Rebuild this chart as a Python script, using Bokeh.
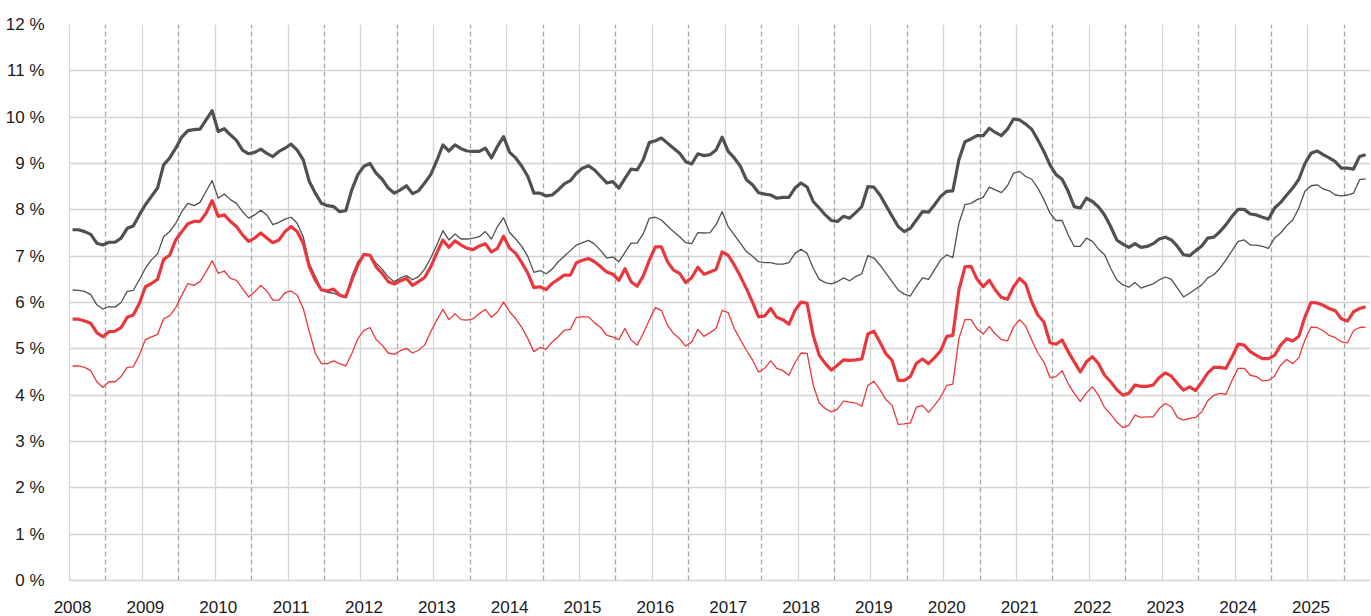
import numpy as np
from bokeh.plotting import figure
from bokeh.models import Range1d, FixedTicker, Grid
from bokeh.embed import file_html
from bokeh.resources import INLINE

# Monthly data, Jan 2008 .. Oct 2025 (percent)
years = [str(y) for y in range(2008, 2026)]
y_ticks = list(range(0, 13))
y_labels = [f"{v} %" for v in y_ticks]

# thick dark grey series
series_a = [
    7.57, 7.57, 7.53, 7.47, 7.28, 7.24, 7.30, 7.30, 7.39, 7.60, 7.65, 7.89,
    8.11, 8.29, 8.47, 8.97, 9.12, 9.33, 9.57, 9.71, 9.73, 9.74, 9.94, 10.14,
    9.69, 9.75, 9.62, 9.50, 9.29, 9.21, 9.24, 9.31, 9.22, 9.15, 9.26, 9.33,
    9.42, 9.29, 9.08, 8.61, 8.36, 8.14, 8.09, 8.07, 7.96, 7.98, 8.43, 8.76,
    8.94, 9.00, 8.79, 8.66, 8.47, 8.36, 8.43, 8.52, 8.35, 8.41, 8.58, 8.76,
    9.06, 9.40, 9.27, 9.40, 9.32, 9.27, 9.26, 9.26, 9.33, 9.12, 9.37, 9.58,
    9.24, 9.12, 8.94, 8.72, 8.36, 8.36, 8.30, 8.32, 8.43, 8.56, 8.63, 8.79,
    8.90, 8.95, 8.86, 8.72, 8.58, 8.61, 8.47, 8.68, 8.88, 8.86, 9.08, 9.45,
    9.49, 9.55, 9.44, 9.33, 9.22, 9.04, 8.99, 9.21, 9.17, 9.19, 9.29, 9.57,
    9.26, 9.12, 8.94, 8.65, 8.54, 8.37, 8.34, 8.32, 8.25, 8.27, 8.27, 8.47,
    8.58, 8.49, 8.18, 8.04, 7.89, 7.77, 7.75, 7.86, 7.82, 7.94, 8.07, 8.50,
    8.49, 8.32, 8.09, 7.86, 7.64, 7.53, 7.60, 7.78, 7.96, 7.95, 8.11, 8.29,
    8.40, 8.41, 9.08, 9.47, 9.53, 9.60, 9.60, 9.76, 9.67, 9.60, 9.74, 9.96,
    9.94, 9.85, 9.74, 9.51, 9.26, 8.97, 8.76, 8.66, 8.40, 8.07, 8.04, 8.25,
    8.18, 8.06, 7.89, 7.64, 7.35, 7.26, 7.19, 7.27, 7.19, 7.21, 7.27, 7.37,
    7.41, 7.35, 7.21, 7.03, 7.01, 7.12, 7.22, 7.39, 7.41, 7.53, 7.68, 7.86,
    8.01, 8.01, 7.91, 7.89, 7.84, 7.80, 8.04, 8.16, 8.32, 8.47, 8.66, 9.00,
    9.22, 9.27, 9.19, 9.12, 9.04, 8.90, 8.90, 8.88, 9.15, 9.19,
]

# thin dark grey series
series_b = [
    6.27, 6.26, 6.24, 6.17, 5.95, 5.86, 5.91, 5.90, 6.00, 6.24, 6.26, 6.49,
    6.74, 6.92, 7.05, 7.42, 7.53, 7.71, 7.96, 8.14, 8.09, 8.16, 8.40, 8.63,
    8.25, 8.34, 8.22, 8.14, 7.96, 7.82, 7.89, 7.99, 7.89, 7.68, 7.73, 7.80,
    7.84, 7.71, 7.42, 6.84, 6.56, 6.29, 6.22, 6.20, 6.14, 6.11, 6.56, 6.88,
    7.04, 7.03, 6.85, 6.72, 6.55, 6.45, 6.53, 6.58, 6.49, 6.56, 6.72, 6.96,
    7.24, 7.55, 7.35, 7.48, 7.37, 7.37, 7.39, 7.42, 7.53, 7.37, 7.64, 7.83,
    7.51, 7.37, 7.21, 6.99, 6.65, 6.69, 6.62, 6.72, 6.88, 7.00, 7.12, 7.24,
    7.29, 7.34, 7.26, 7.12, 6.96, 6.98, 6.88, 7.08, 7.28, 7.28, 7.48, 7.82,
    7.84, 7.78, 7.65, 7.53, 7.42, 7.29, 7.27, 7.51, 7.50, 7.51, 7.68, 7.96,
    7.64, 7.46, 7.28, 7.10, 7.00, 6.88, 6.86, 6.86, 6.83, 6.83, 6.86, 7.06,
    7.15, 7.06, 6.74, 6.50, 6.43, 6.40, 6.45, 6.53, 6.47, 6.56, 6.62, 7.01,
    6.96, 6.81, 6.63, 6.45, 6.27, 6.18, 6.14, 6.35, 6.53, 6.50, 6.71, 6.92,
    7.03, 6.97, 7.71, 8.11, 8.14, 8.22, 8.27, 8.49, 8.43, 8.37, 8.52, 8.79,
    8.83, 8.72, 8.66, 8.47, 8.22, 7.93, 7.77, 7.77, 7.46, 7.21, 7.21, 7.39,
    7.32, 7.15, 7.03, 6.74, 6.49, 6.38, 6.33, 6.43, 6.31, 6.36, 6.40, 6.49,
    6.55, 6.50, 6.31, 6.12, 6.20, 6.29, 6.38, 6.53, 6.60, 6.74, 6.92, 7.12,
    7.32, 7.35, 7.24, 7.24, 7.21, 7.17, 7.39, 7.50, 7.66, 7.78, 8.04, 8.40,
    8.52, 8.54, 8.45, 8.41, 8.32, 8.30, 8.32, 8.36, 8.65, 8.67,
]

# thick red series
series_c = [
    5.64, 5.64, 5.60, 5.55, 5.35, 5.26, 5.37, 5.38, 5.46, 5.68, 5.73, 5.98,
    6.34, 6.41, 6.50, 6.93, 7.02, 7.35, 7.53, 7.70, 7.75, 7.75, 7.93, 8.20,
    7.86, 7.89, 7.75, 7.64, 7.46, 7.32, 7.39, 7.50, 7.39, 7.29, 7.35, 7.53,
    7.64, 7.53, 7.28, 6.77, 6.48, 6.27, 6.25, 6.29, 6.16, 6.12, 6.48, 6.81,
    7.04, 7.02, 6.77, 6.63, 6.45, 6.40, 6.47, 6.52, 6.37, 6.45, 6.54, 6.77,
    7.07, 7.35, 7.19, 7.33, 7.24, 7.17, 7.14, 7.22, 7.27, 7.09, 7.17, 7.43,
    7.17, 7.06, 6.86, 6.63, 6.32, 6.34, 6.28, 6.41, 6.50, 6.59, 6.59, 6.86,
    6.91, 6.95, 6.88, 6.77, 6.66, 6.61, 6.48, 6.73, 6.45, 6.35, 6.57, 6.91,
    7.20, 7.20, 6.88, 6.70, 6.63, 6.43, 6.54, 6.76, 6.61, 6.66, 6.71, 7.09,
    7.02, 6.81, 6.57, 6.30, 6.01, 5.69, 5.71, 5.87, 5.68, 5.63, 5.53, 5.83,
    6.01, 5.98, 5.29, 4.86, 4.68, 4.54, 4.65, 4.76, 4.75, 4.76, 4.78, 5.32,
    5.38, 5.14, 4.89, 4.75, 4.32, 4.32, 4.40, 4.69, 4.78, 4.68, 4.81, 4.96,
    5.27, 5.29, 6.27, 6.77, 6.78, 6.50, 6.34, 6.48, 6.27, 6.11, 6.07, 6.34,
    6.52, 6.40, 6.01, 5.73, 5.58, 5.13, 5.10, 5.19, 4.94, 4.72, 4.50, 4.72,
    4.83, 4.68, 4.43, 4.29, 4.12, 4.00, 4.04, 4.22, 4.19, 4.19, 4.22, 4.38,
    4.48, 4.41, 4.25, 4.11, 4.18, 4.10, 4.28, 4.48, 4.60, 4.60, 4.58, 4.83,
    5.10, 5.08, 4.94, 4.86, 4.79, 4.79, 4.86, 5.08, 5.22, 5.17, 5.27, 5.69,
    6.00, 5.99, 5.94, 5.87, 5.82, 5.65, 5.60, 5.80, 5.87, 5.91,
]

# thin red series
series_d = [
    4.63, 4.63, 4.60, 4.53, 4.29, 4.17, 4.29, 4.29, 4.40, 4.60, 4.61, 4.86,
    5.20, 5.26, 5.31, 5.65, 5.71, 5.89, 6.16, 6.41, 6.37, 6.45, 6.66, 6.90,
    6.63, 6.68, 6.52, 6.48, 6.30, 6.12, 6.23, 6.37, 6.25, 6.05, 6.05, 6.21,
    6.25, 6.16, 5.87, 5.37, 4.90, 4.68, 4.68, 4.74, 4.68, 4.63, 4.90, 5.22,
    5.40, 5.46, 5.20, 5.08, 4.91, 4.88, 4.96, 5.01, 4.91, 4.97, 5.08, 5.37,
    5.62, 5.85, 5.63, 5.76, 5.63, 5.62, 5.65, 5.76, 5.85, 5.68, 5.80, 6.01,
    5.80, 5.65, 5.46, 5.22, 4.94, 5.03, 4.99, 5.15, 5.26, 5.40, 5.42, 5.68,
    5.69, 5.69, 5.56, 5.46, 5.29, 5.26, 5.20, 5.44, 5.19, 5.08, 5.33, 5.62,
    5.89, 5.83, 5.51, 5.33, 5.22, 5.06, 5.15, 5.42, 5.27, 5.35, 5.44, 5.83,
    5.78, 5.44, 5.20, 4.97, 4.76, 4.50, 4.58, 4.74, 4.58, 4.53, 4.43, 4.70,
    4.91, 4.90, 4.22, 3.83, 3.71, 3.64, 3.70, 3.87, 3.85, 3.83, 3.76, 4.21,
    4.30, 4.12, 3.90, 3.78, 3.37, 3.38, 3.40, 3.74, 3.78, 3.63, 3.78, 3.96,
    4.21, 4.24, 5.22, 5.63, 5.63, 5.43, 5.32, 5.48, 5.32, 5.20, 5.17, 5.47,
    5.63, 5.49, 5.19, 4.91, 4.72, 4.38, 4.40, 4.53, 4.25, 4.04, 3.86, 4.05,
    4.18, 4.00, 3.73, 3.59, 3.42, 3.30, 3.35, 3.57, 3.52, 3.53, 3.53, 3.71,
    3.82, 3.75, 3.52, 3.46, 3.50, 3.52, 3.64, 3.88, 4.00, 4.04, 4.02, 4.32,
    4.58, 4.58, 4.43, 4.40, 4.31, 4.32, 4.41, 4.65, 4.77, 4.68, 4.81, 5.19,
    5.47, 5.46, 5.39, 5.29, 5.24, 5.15, 5.13, 5.39, 5.46, 5.47,
]

n = len(series_a)
x = np.arange(n) + 0.5  # month centres

GRID = "#d4d4d4"
DASH = "#a6a6a6"
GREY = "#505050"
RED = "#e8383d"
FONT = "Liberation Sans"

p = figure(width=1370, height=615, output_backend="svg", toolbar_location=None,
           x_range=Range1d(0, 214.3), y_range=Range1d(0, 12),
           min_border_left=69, min_border_right=0, min_border_top=24, min_border_bottom=35)
p.outline_line_color = None
p.background_fill_color = "white"
p.border_fill_color = "white"

# grids
p.xgrid.ticker = FixedTicker(ticks=[12 * k for k in range(len(years))])
p.xgrid.grid_line_color = GRID
p.xgrid.grid_line_width = 1.3
p.ygrid.ticker = FixedTicker(ticks=y_ticks)
p.ygrid.grid_line_color = GRID
p.ygrid.grid_line_width = 1.3
p.add_layout(Grid(dimension=0, ticker=FixedTicker(ticks=[12 * k + 6 for k in range(len(years))]),
                  grid_line_color=DASH, grid_line_dash="5 3", grid_line_width=1.3))

# axes
xt = [12 * k + 0.5 for k in range(len(years))]
p.xaxis.ticker = FixedTicker(ticks=xt)
p.xaxis.major_label_overrides = {t: lab for t, lab in zip(xt, years)}
p.yaxis.ticker = FixedTicker(ticks=y_ticks)
p.yaxis.major_label_overrides = {t: lab for t, lab in zip(y_ticks, y_labels)}
for ax in (p.xaxis, p.yaxis):
    ax.axis_line_color = GRID
    ax.axis_line_width = 1.3
    ax.major_tick_line_color = None
    ax.minor_tick_line_color = None
    ax.major_label_text_font = FONT
    ax.major_label_text_font_size = "17px"
    ax.major_label_text_color = "#1a1a1a"
p.xaxis.major_label_standoff = 14
p.yaxis.major_label_standoff = 19

# series
p.line(x, series_b, line_color=GREY, line_width=1.3, line_join="round")
p.line(x, series_d, line_color=RED, line_width=1.3, line_join="round")
p.line(x, series_a, line_color=GREY, line_width=3.2, line_join="round")
p.line(x, series_c, line_color=RED, line_width=3.2, line_join="round")

open("out.html", "w").write(file_html(p, INLINE))
